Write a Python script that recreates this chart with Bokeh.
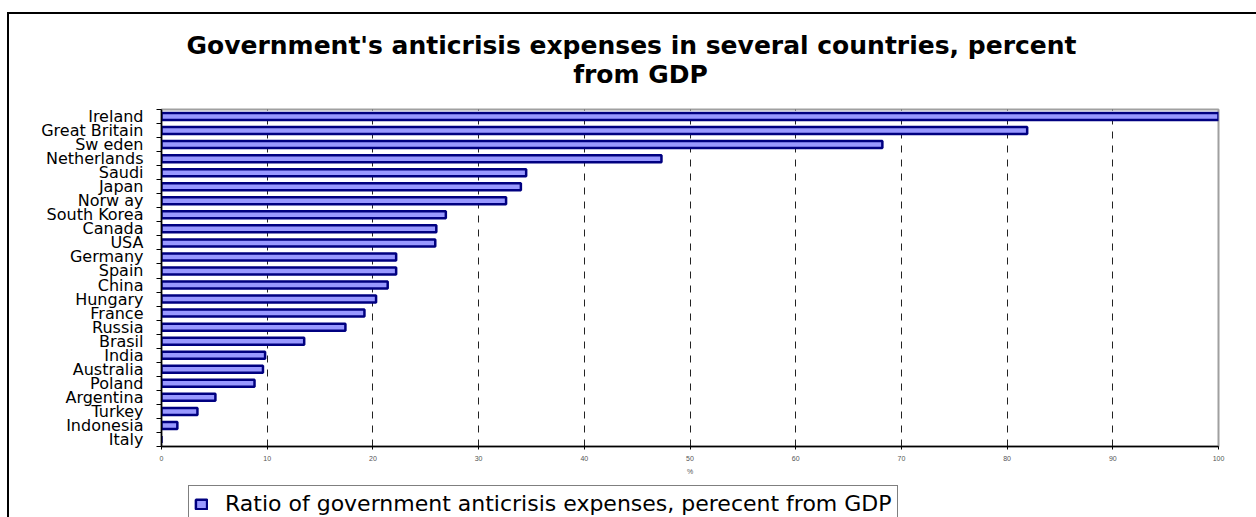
from bokeh.plotting import figure
from bokeh.layouts import column
from bokeh.models import (Range1d, Label, ColumnDataSource, Legend, LegendItem,
                          LinearAxis, FixedTicker)
from bokeh.embed import file_html
from bokeh.resources import INLINE

countries = ["Ireland", "Great Britain", "Sw eden", "Netherlands", "Saudi", "Japan",
             "Norw ay", "South Korea", "Canada", "USA", "Germany", "Spain", "China",
             "Hungary", "France", "Russia", "Brasil", "India", "Australia", "Poland",
             "Argentina", "Turkey", "Indonesia", "Italy"]
values = [101.0, 81.9, 68.2, 47.3, 34.5, 34.0, 32.6, 26.9, 26.0, 25.9, 22.2, 22.2,
          21.4, 20.3, 19.2, 17.4, 13.5, 9.8, 9.6, 8.8, 5.1, 3.4, 1.5, 0.0]
x_ticks = [0, 10, 20, 30, 40, 50, 60, 70, 80, 90, 100]
title_lines = ["Government's anticrisis expenses in several countries, percent", "from GDP"]
series_name = "Ratio of government anticrisis expenses, perecent from GDP"
x_axis_label = "%"

FONT = "DejaVu Sans"
W = 1247
OX, OY = 9, 14            # page offset of the content (margin + border)
FL, FR = 161, 1218        # page x of the plotting frame (all strips share it)

n = len(countries)
ypos = [n - i - 0.5 for i in range(n)]   # row centres, first country on top
bar_fill, bar_line = "#9999FF", "#000080"


def strip(fig):
    fig.xaxis.visible = False
    fig.yaxis.visible = False
    fig.xgrid.visible = False
    fig.ygrid.visible = False
    fig.outline_line_color = None
    fig.background_fill_color = "white"
    fig.border_fill_color = "white"


src = ColumnDataSource(dict(y=ypos, val=values))

# ---------------- title strip (page y 14..100) ----------------
TH = 100 - OY
pt = figure(width=W, height=TH, output_backend="svg", toolbar_location=None,
            x_range=Range1d(FL, FR), y_range=Range1d(0, TH),
            min_border_left=FL - OX, min_border_right=W - (FR - OX),
            min_border_top=0, min_border_bottom=0)
strip(pt)
pt.add_layout(Label(x=631, y=100 - 45, text=title_lines[0], text_align="center",
                    text_baseline="middle", text_font=FONT, text_font_style="bold",
                    text_font_size="25px", text_color="black"))
pt.add_layout(Label(x=640, y=100 - 74, text=title_lines[1], text_align="center",
                    text_baseline="middle", text_font=FONT, text_font_style="bold",
                    text_font_size="25px", text_color="black"))

# ---------------- main chart (page y 100..484) ----------------
MH = 484 - 100
p = figure(width=W, height=MH, output_backend="svg", toolbar_location=None,
           x_range=Range1d(0, 100), y_range=Range1d(0, n),
           min_border_left=FL - OX, min_border_right=W - (FR - OX),
           min_border_top=109 - 100, min_border_bottom=484 - 446)
p.background_fill_color = "white"
p.border_fill_color = "white"
p.outline_line_color = "#A0A0A0"
p.outline_line_width = 2

r = p.hbar(y="y", right="val", left=0, height=0.5, source=src,
           fill_color=bar_fill, line_color=bar_line, line_width=2.5)

p.ygrid.grid_line_color = None
p.xgrid.grid_line_color = "#222222"
p.xgrid.grid_line_dash = "7 7"
p.xgrid.grid_line_width = 1
p.xgrid.ticker = x_ticks

p.xaxis.ticker = x_ticks
p.xaxis.axis_line_color = "black"
p.xaxis.axis_line_width = 1.5
p.xaxis.major_tick_in = 0
p.xaxis.major_tick_out = 3
p.xaxis.minor_tick_line_color = None
p.xaxis.major_label_text_font = "Liberation Sans"
p.xaxis.major_label_text_font_size = "7px"
p.xaxis.major_label_text_color = "#555555"
p.xaxis.major_label_standoff = 6
p.xaxis.axis_label = x_axis_label
p.xaxis.axis_label_text_font = "Liberation Sans"
p.xaxis.axis_label_text_font_size = "7px"
p.xaxis.axis_label_text_font_style = "normal"
p.xaxis.axis_label_text_color = "#555555"
p.xaxis.axis_label_standoff = 4

# left axis: ticks on the row boundaries, no labels
p.yaxis.ticker = FixedTicker(ticks=list(range(n + 1)))
p.yaxis.major_label_overrides = {k: "" for k in range(n + 1)}
p.yaxis.major_label_standoff = 0
p.yaxis.axis_line_color = "black"
p.yaxis.axis_line_width = 1.5
p.yaxis.major_tick_in = 0
p.yaxis.major_tick_out = 5
p.yaxis.minor_tick_line_color = None

# second left axis: country names at the row centres
names_axis = LinearAxis(ticker=FixedTicker(ticks=ypos),
                        major_label_overrides={y: c for y, c in zip(ypos, countries)},
                        axis_line_color=None, major_tick_line_color=None,
                        minor_tick_line_color=None, major_tick_in=0, major_tick_out=0,
                        minor_tick_out=0, major_label_standoff=13,
                        major_label_text_font=FONT, major_label_text_font_size="16px",
                        major_label_text_color="black")
p.add_layout(names_axis, "left")

# ---------------- legend strip (page y 484..517) ----------------
LH = 517 - 484
pl = figure(width=W, height=LH, output_backend="svg", toolbar_location=None,
            x_range=Range1d(FL, FR), y_range=Range1d(0, LH),
            min_border_left=FL - OX, min_border_right=W - (FR - OX),
            min_border_top=0, min_border_bottom=0)
strip(pl)
swatch = pl.hbar(y="y", right="val", left=0, height=0.5, source=src,
                 fill_color=bar_fill, line_color=bar_line, line_width=2.5)
swatch.visible = False
leg_pad, leg_lh = 5, 24
leg_h = 2 * leg_pad + leg_lh
leg_top = 4
legend = Legend(items=[LegendItem(label=series_name, renderers=[swatch])],
                location=(188 - FL, LH - leg_top - leg_h), orientation="horizontal",
                border_line_color="black", border_line_width=1.2,
                background_fill_color="white", background_fill_alpha=1,
                inactive_fill_alpha=0,
                label_text_font=FONT, label_text_font_size="22px",
                label_text_color="black", label_height=leg_lh,
                glyph_width=14, glyph_height=12, label_standoff=17,
                padding=leg_pad, margin=0, spacing=0)
pl.add_layout(legend, "center")

layout = column(pt, p, pl, spacing=0,
                styles={"margin-left": "7px", "margin-top": "12px",
                        "border-left": "2px solid black", "border-top": "2px solid black"})

open("out.html", "w").write(file_html(layout, INLINE))
